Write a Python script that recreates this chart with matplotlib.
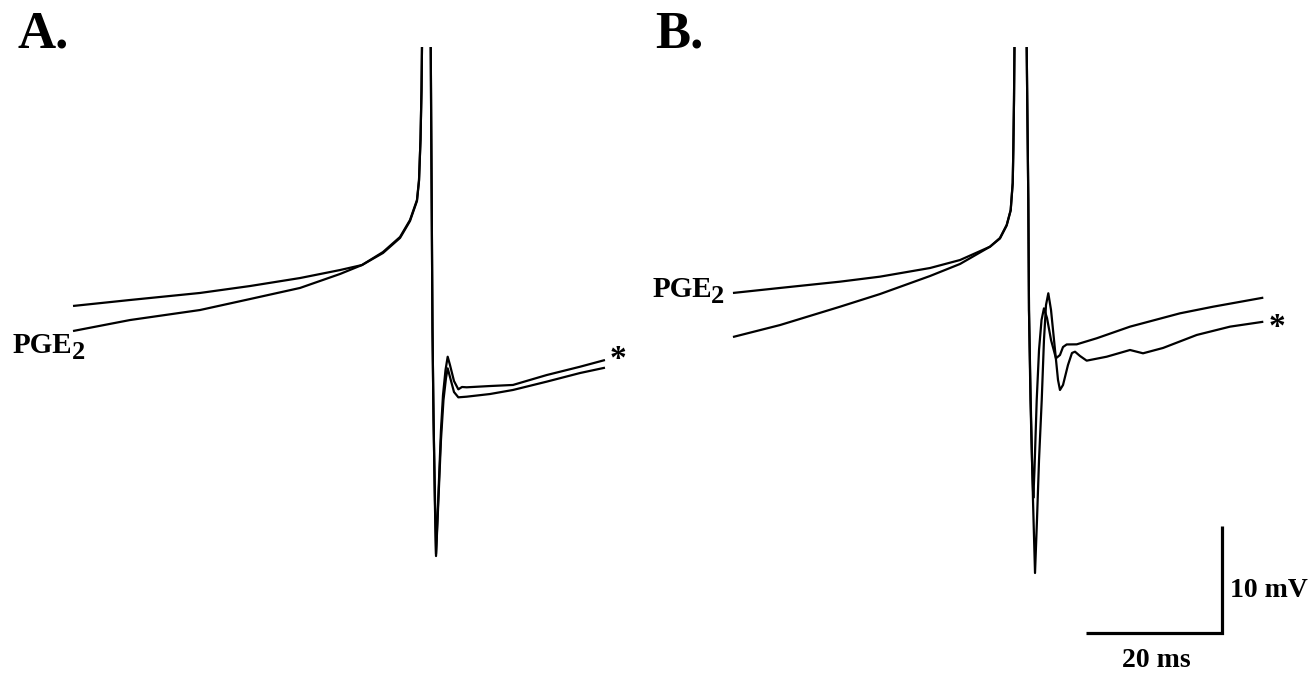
import matplotlib
matplotlib.use("Agg")
import matplotlib.pyplot as plt
import numpy as np

nan = np.nan

# ---------------- data (time in ms, membrane potential in mV) ----------------
# The spike is cut off at the top of the picture: NaN marks the clipped part.
# Panel A: control trace (upper before spike, lower after)
a_ctrl_t = [10.77, 19.17, 29.50, 36.87, 44.25, 50.15, 53.39, 56.49, 59.00, 60.47, 61.50, 61.80,
            62.02, 62.17, 62.24, 62.9,
            63.53, 63.67, 63.79, 63.94, 64.16, 64.31,
            64.60, 65.04, 65.41, 65.78, 66.03, 66.37, 66.96, 67.60, 68.83, 72.27, 75.66, 80.63, 85.55, 89.23]
a_ctrl_v = [-55.56, -55.00, -54.34, -53.69, -52.94, -52.19, -51.72, -50.50, -49.09, -47.50, -45.62, -43.74,
            -39.99, -35.30, -31.27, nan,
            -31.27, -45.62, -57.81, -66.26, -73.76, -79.02,
            -74.70, -68.13, -64.38, -62.32, -61.41, -62.22, -63.63, -64.13, -64.07, -63.82, -63.44, -62.66, -61.85, -61.35]

# Panel A: PGE2 trace (lower before spike, upper after)
a_pge_t = [10.77, 19.17, 29.50, 36.87, 44.25, 50.15, 53.39, 56.49, 59.00, 60.47, 61.50, 61.80,
           62.02, 62.17, 62.24, 62.9,
           63.53, 63.67, 63.79, 63.91, 64.13, 64.31,
           64.60, 65.04, 65.34, 65.71, 66.03, 66.37, 66.96, 67.60, 68.14, 68.83, 72.27, 75.66, 80.63, 85.55, 89.23]
a_pge_v = [-57.91, -56.88, -55.94, -54.91, -53.87, -52.56, -51.72, -50.59, -49.18, -47.59, -45.71, -43.84,
           -39.99, -35.30, -31.27, nan,
           -31.27, -45.62, -57.81, -64.38, -73.76, -78.83,
           -74.23, -67.20, -63.91, -61.57, -60.32, -61.10, -62.60, -63.38, -63.16, -63.19, -63.07, -62.97, -62.04, -61.26, -60.63]

# Panel B: PGE2 trace (upper before spike, lower after)
b_pge_t = [11.50, 18.44, 27.29, 33.19, 40.56, 44.99, 49.41, 50.88, 51.87, 52.46, 52.76, 52.85, 52.95, 53.02, 53.9,
           54.82, 55.06, 55.16, 55.41, 55.75, 56.05,
           56.34, 56.64, 57.04, 57.37, 57.67, 58.01, 58.41, 59.00, 59.44, 59.73, 60.18, 60.91, 61.50, 61.95,
           62.68, 63.67, 66.62, 70.06, 71.98, 74.93, 79.90, 84.81, 89.72]
b_pge_v = [-54.34, -53.87, -53.28, -52.81, -52.00, -51.25, -50.00, -49.18, -47.96, -46.56, -44.02, -40.93, -36.24, -31.27, nan,
           -31.27, -45.62, -55.94, -64.38, -73.76, -80.61,
           -75.64, -70.01, -64.38, -58.75, -55.47, -54.37, -55.94, -59.69, -62.50, -63.44, -62.97, -61.10, -59.97, -59.85,
           -60.25, -60.69, -60.32, -59.69, -60.00, -59.50, -58.28, -57.50, -57.04]

# Panel B: control trace (lower before spike, upper after)
b_ctrl_t = [11.50, 18.44, 27.29, 33.19, 40.56, 44.99, 49.41, 50.88, 51.87, 52.46, 52.76, 52.85, 52.95, 53.02, 53.9,
            54.82, 55.06, 55.16, 55.38, 55.60, 55.80,
            55.97, 56.30, 56.64, 57.01, 57.37, 57.82, 58.41, 59.14, 59.73, 60.18, 60.72, 62.20, 65.15,
            70.06, 77.43, 82.30, 89.72]
b_ctrl_v = [-58.47, -57.35, -55.63, -54.44, -52.75, -51.62, -50.00, -49.23, -48.01, -46.60, -44.02, -40.93, -36.24, -31.27, nan,
            -31.27, -45.62, -55.94, -64.38, -70.01, -73.57,
            -70.95, -64.38, -59.69, -56.88, -55.78, -56.69, -58.75, -60.47, -60.16, -59.41, -59.17, -59.16, -58.59,
            -57.50, -56.25, -55.63, -54.78]

scale_ms = 20
scale_mv = 10
panel_labels = ["A.", "B."]
drug_label = "PGE"
drug_sub = "2"

# ---------------- layout ----------------
W, H = 1310, 673
PX_PER_MS = 6.78
PX_PER_MV = 10.66
V_AT_300 = -55.0  # potential at pixel row 300
v_top = V_AT_300 + 300 / PX_PER_MV
v_bot = V_AT_300 - (H - 300) / PX_PER_MV
half_ms = (W / 2) / PX_PER_MS

fig = plt.figure(figsize=(W / 100, H / 100), dpi=100)
fig.patch.set_facecolor("white")
axA = fig.add_axes([0, 0, 0.5, 1])
axB = fig.add_axes([0.5, 0, 0.5, 1])
for ax in (axA, axB):
    ax.set_xlim(0, half_ms)
    ax.set_ylim(v_bot, v_top)
    ax.axis("off")

lw = 1.6
style = dict(color="black", lw=lw, solid_joinstyle="round", solid_capstyle="butt")
axA.plot(a_ctrl_t, a_ctrl_v, **style)
axA.plot(a_pge_t, a_pge_v, **style)
axB.plot(b_ctrl_t, b_ctrl_v, **style)
axB.plot(b_pge_t, b_pge_v, **style)

# scale bar (panel B)
sb_x1 = (1221.7 - W / 2) / PX_PER_MS
sb_y0 = V_AT_300 + (300 - 632.7) / PX_PER_MV
axB.plot([sb_x1 - scale_ms, sb_x1, sb_x1], [sb_y0, sb_y0, sb_y0 + scale_mv],
         color="black", lw=2.3, solid_joinstyle="miter", solid_capstyle="butt")

serif = ["Liberation Serif", "DejaVu Serif"]

def ftext(x, y, s, size, ha="left", va="baseline"):
    return fig.text(x / W, 1 - y / H, s, fontsize=size, fontweight="bold", family=serif, ha=ha, va=va)

ftext(18, 48, panel_labels[0], 38)
ftext(655, 48, panel_labels[1], 38)

ftext(72, 353, drug_label, 21, ha="right")
ftext(72, 359, drug_sub, 19)
ftext(712, 297, drug_label, 21, ha="right")
ftext(711, 303, drug_sub, 19)

ftext(618, 368, "*", 24, ha="center")
ftext(1277, 336, "*", 24, ha="center")

ftext(1308, 597, f"{scale_mv} mV", 20, ha="right")
ftext(1156, 667, f"{scale_ms} ms", 20, ha="center")

fig.savefig("out.png", dpi=100, facecolor="white")
